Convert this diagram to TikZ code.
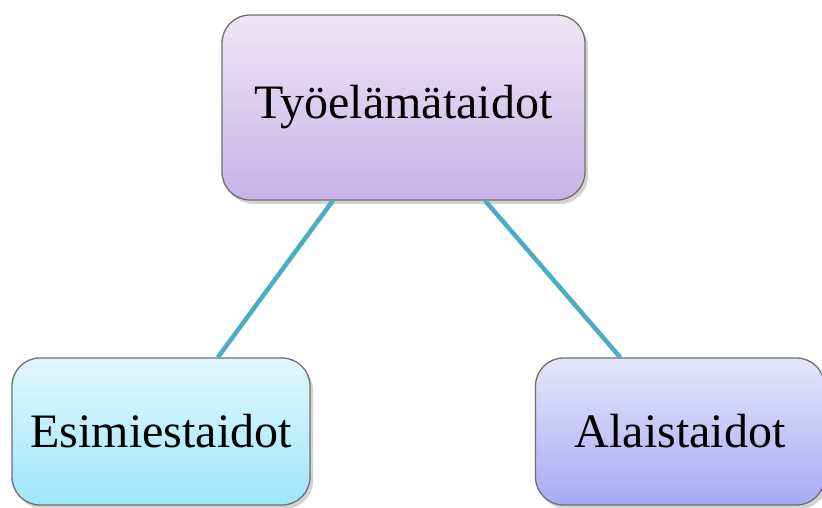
\documentclass[tikz,border=0pt]{standalone}
\usepackage{fontspec}
\setmainfont{Liberation Serif}
\usepackage{tikz}
\usetikzlibrary{calc, shadows}

\definecolor{linkteal}{HTML}{4BACC6}
\definecolor{boxgray}{HTML}{707070}

\begin{document}
\begin{tikzpicture}[
    x=1pt, y=-1pt,
    % styles des boîtes
    skill/.style = {rectangle, rounded corners=28pt, draw=boxgray, line width=1.3pt,
                    align=center, font=\fontsize{48}{58}\selectfont,
                    drop shadow={shadow xshift=3pt, shadow yshift=-4pt, opacity=0.35}},
    link/.style  = {linkteal, line width=4.5pt},
]

\useasboundingbox (0,0) rectangle (822,507);

% ── Boîte du haut ────────────────────────────────────────────────────────────
\node[skill, top color={rgb,255:red,238;green,231;blue,246},
      bottom color={rgb,255:red,199;green,178;blue,230},
      minimum width=363pt, minimum height=185pt] (tyo) at (403.5,107.5)
    {Työelämätaidot};

% ── Boîtes du bas ────────────────────────────────────────────────────────────
\node[skill, top color={rgb,255:red,226;green,248;blue,254},
      bottom color={rgb,255:red,158;green,230;blue,250},
      minimum width=298pt, minimum height=147pt] (esim) at (161,431.5)
    {Esimiestaidot};

\node[skill, top color={rgb,255:red,230;green,230;blue,250},
      bottom color={rgb,255:red,166;green,170;blue,244},
      minimum width=289pt, minimum height=147pt] (alais) at (680,431.5)
    {Alaistaidot};

% ── Liaisons ─────────────────────────────────────────────────────────────────
\coordinate (tyoL)   at ($(tyo.south west)!0.306!(tyo.south east)$);
\coordinate (tyoR)   at ($(tyo.south west)!0.724!(tyo.south east)$);
\coordinate (esimT)  at ($(esim.north west)!0.69!(esim.north east)$);
\coordinate (alaisT) at ($(alais.north west)!0.294!(alais.north east)$);

\draw[link] (tyoL) -- (esimT);
\draw[link] (tyoR) -- (alaisT);

\end{tikzpicture}
\end{document}
